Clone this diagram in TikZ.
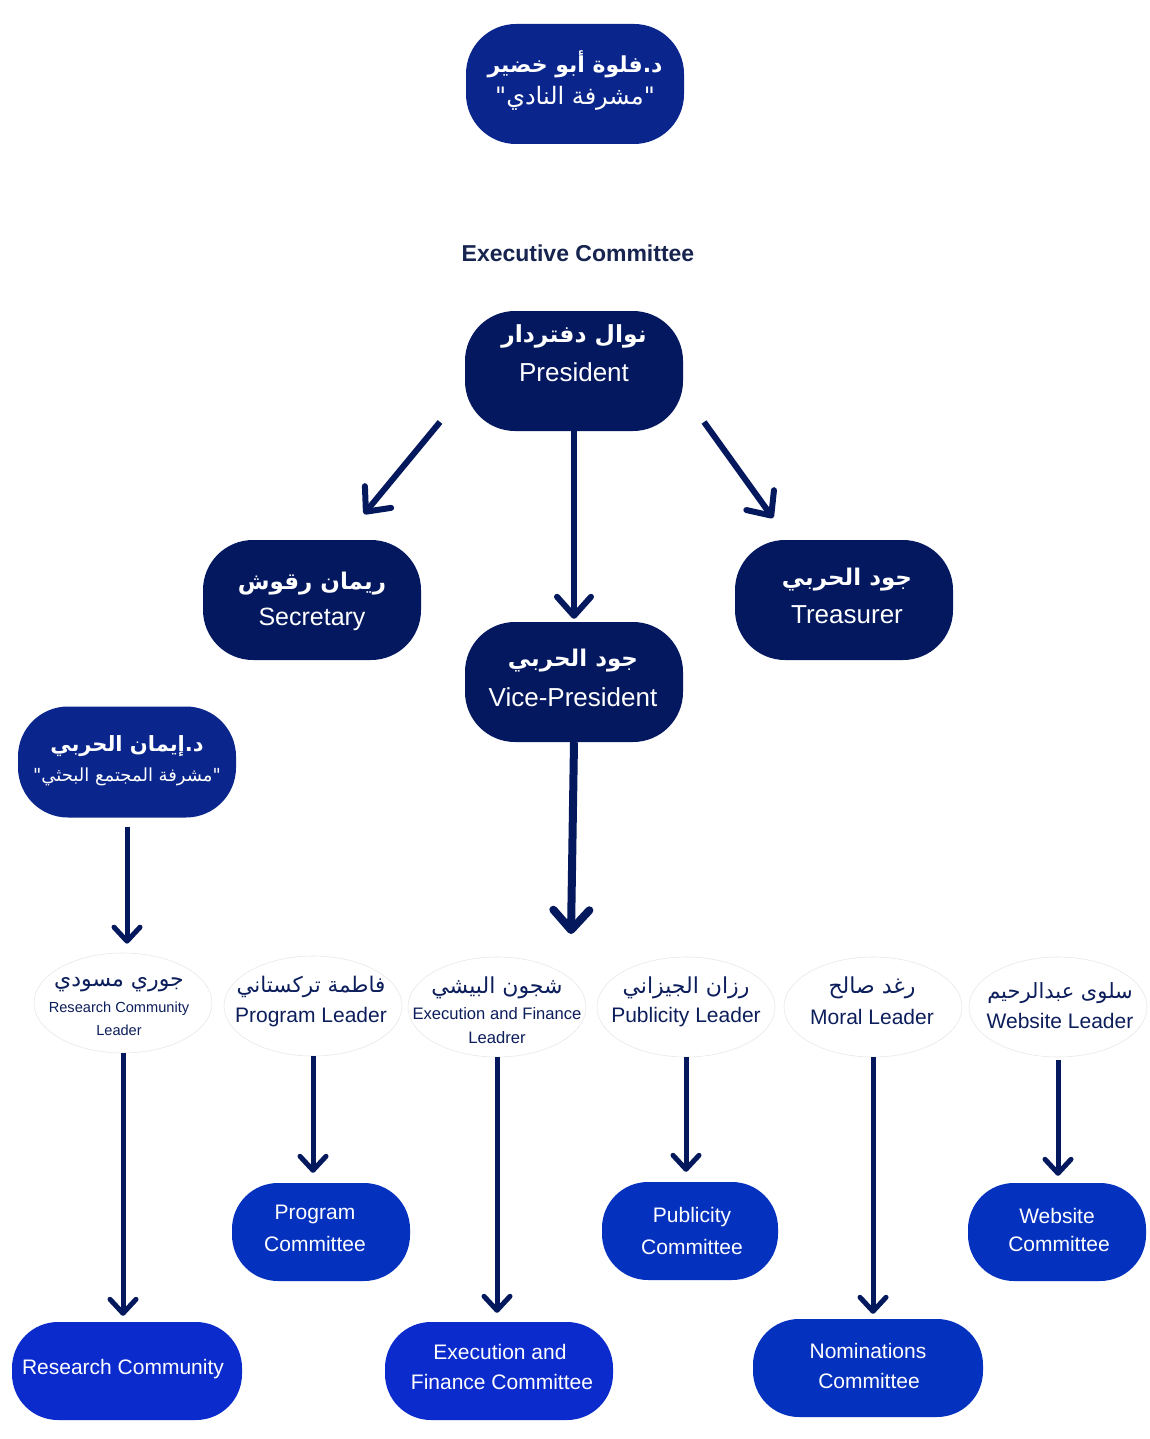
\documentclass[tikz,border=0pt]{standalone}
\usepackage{fontspec}
\setmainfont{Liberation Sans}
\TeXXeTstate=1
\newfontfamily\arabicfont[Script=Arabic]{DejaVu Sans}
\usetikzlibrary{arrows.meta,shapes.geometric}
\newcommand{\artxt}[1]{{\arabicfont\beginR #1\endR}}
\newcommand{\fsz}[1]{\fontsize{#1}{#1}\selectfont}
\definecolor{navy}{HTML}{03185F}
\definecolor{supblue}{HTML}{0A268C}
\definecolor{combl}{HTML}{0432BF}
\definecolor{combv}{HTML}{0B2BCC}
\definecolor{arrowc}{HTML}{04185E}
\definecolor{ldtext}{HTML}{0C1E5B}
\definecolor{ectext}{HTML}{17244F}
\begin{document}
\begin{tikzpicture}[x=1pt,y=-1pt,
  execbox/.style={fill=navy, rounded corners=50pt, minimum width=218pt, minimum height=120pt, inner sep=0pt},
  supbox/.style={fill=supblue, rounded corners=50pt, minimum width=218pt, minimum height=120pt, inner sep=0pt},
  combox/.style={fill=combl, rounded corners=46pt, minimum width=178pt, minimum height=98pt, inner sep=0pt},
  comvbox/.style={fill=combv, rounded corners=46pt, minimum width=230pt, minimum height=98pt, inner sep=0pt},
  leadbox/.style={ellipse, draw=gray!18, line width=0.6pt, fill=white, minimum width=178pt, minimum height=100pt, inner sep=0pt},
  wtxt/.style={text=white, inner sep=0pt},
  ltxt/.style={text=ldtext, inner sep=0pt},
  arrbig/.style={draw=arrowc, line width=6pt, -{Straight Barb[round,length=19pt,width=34pt]}},
  arrvp/.style={draw=arrowc, line width=8pt, -{Straight Barb[round,length=20pt,width=36pt]}},
  arrsm/.style={draw=arrowc, line width=5pt, -{Straight Barb[round,length=14pt,width=26pt]}}
]
\useasboundingbox (0,0) rectangle (1150,1439);
\fill[white] (0,0) rectangle (1150,1439);

% supervisor
\node[supbox] (top) at (575,84) {};
\node[wtxt] (topA) at (575,64) {\fsz{22}\bfseries\artxt{د.فلوة أبو خضير}};
\node[wtxt] (topB) at (575,98) {\fsz{24}\artxt{"مشرفة النادي"}};

\node[text=ectext, inner sep=0pt] (ectitle) at (578,253) {\fsz{23}\bfseries Executive Committee};

% executive
\node[execbox] (pres) at (574,371) {};
\node[wtxt] (presA) at (574,336) {\fsz{23.5}\bfseries\artxt{نوال دفتردار}};
\node[wtxt] (presB) at (574,372) {\fsz{26}President};

\node[execbox] (sec) at (312,600) {};
\node[wtxt] (secA) at (312,584) {\fsz{23}\bfseries\artxt{ريمان رقوش}};
\node[wtxt] (secB) at (312,619) {\fsz{25}Secretary};

\node[execbox] (tre) at (844,600) {};
\node[wtxt] (treA) at (847,580) {\fsz{23}\bfseries\artxt{جود الحربي}};
\node[wtxt] (treB) at (847,615) {\fsz{26}Treasurer};

\node[execbox] (vp) at (574,682) {};
\node[wtxt] (vpA) at (573,661) {\fsz{23}\bfseries\artxt{جود الحربي}};
\node[wtxt] (vpB) at (573,697) {\fsz{26}Vice-President};

\node[supbox, minimum height=111pt] (sup) at (127,762) {};
\node[wtxt] (supA) at (127,746) {\fsz{21}\bfseries\artxt{د.إيمان الحربي}};
\node[wtxt] (supB) at (127,777) {\fsz{18}\artxt{"مشرفة المجتمع البحثي"}};

% leaders
\node[leadbox] (joury) at (123,1003) {};
\node[ltxt] (jouryA) at (119,985) {\fsz{22}\artxt{جوري مسودي}};
\node[ltxt] (jouryB) at (119,1009) {\fsz{14.6}Research Community};
\node[ltxt] (jouryC) at (119,1030) {\fsz{14.6}Leader};

\node[leadbox] (fatima) at (313,1006) {};
\node[ltxt] (fatimaA) at (311,987) {\fsz{21.5}\artxt{فاطمة تركستاني}};
\node[ltxt] (fatimaB) at (311,1017) {\fsz{21}Program Leader};

\node[leadbox] (shaj) at (497,1007) {};
\node[ltxt] (shajA) at (497,988) {\fsz{22}\artxt{شجون البيشي}};
\node[ltxt] (shajB) at (497,1014) {\fsz{16.6}Execution and Finance};
\node[ltxt] (shajC) at (497,1038) {\fsz{16.6}Leadrer};

\node[leadbox] (razan) at (686,1007) {};
\node[ltxt] (razanA) at (686,988) {\fsz{22}\artxt{رزان الجيزاني}};
\node[ltxt] (razanB) at (686,1017) {\fsz{21}Publicity Leader};

\node[leadbox] (raghad) at (873,1007) {};
\node[ltxt] (raghadA) at (872,988) {\fsz{22}\artxt{رغد صالح}};
\node[ltxt] (raghadB) at (872,1017) {\fsz{21}Moral Leader};

\node[leadbox] (salwa) at (1058,1007) {};
\node[ltxt] (salwaA) at (1060,993) {\fsz{21}\artxt{سلوى عبدالرحيم}};
\node[ltxt] (salwaB) at (1060,1021) {\fsz{21}Website Leader};

% committees
\node[combox] (prog) at (321,1232) {};
\node[wtxt] (progA) at (315,1214) {\fsz{21}Program};
\node[wtxt] (progB) at (315,1244) {\fsz{21}Committee};

\node[combox, minimum width=176pt] (pub) at (690,1231) {};
\node[wtxt] (pubA) at (692,1217) {\fsz{21}Publicity};
\node[wtxt] (pubB) at (692,1247) {\fsz{21}Committee};

\node[combox] (web) at (1057,1232) {};
\node[wtxt] (webA) at (1057,1216) {\fsz{21}Website};
\node[wtxt] (webB) at (1059,1244) {\fsz{21}Committee};

\node[comvbox] (rc) at (127,1371) {};
\node[wtxt] (rcA) at (123,1369) {\fsz{21}Research Community};

\node[comvbox, minimum width=228pt] (ef) at (499,1371) {};
\node[wtxt] (efA) at (500,1352) {\fsz{21}Execution and};
\node[wtxt] (efB) at (502,1382) {\fsz{21}Finance Committee};

\node[combox, minimum width=230pt] (nom) at (868,1368) {};
\node[wtxt] (nomA) at (868,1351) {\fsz{21}Nominations};
\node[wtxt] (nomB) at (869,1381) {\fsz{21}Committee};

% connectors
\coordinate (dlS) at (440,422);
\coordinate (dlE) at (364,514);
\coordinate (drS) at (704,422);
\coordinate (drE) at (773,518);
\coordinate (vpE) at (571,934);
\draw[arrbig] (dlS) -- (dlE);
\draw[arrbig] (drS) -- (drE);
\draw[arrbig, shorten >=3pt] (pres.south) -- (vp.north);
\draw[arrvp] (vp.south) -- (vpE);
\draw[arrsm, shorten <=9pt, shorten >=9pt] (sup.south) -- (sup.south |- joury.north);
\draw[arrsm, shorten >=6pt] (joury.south) -- (joury.south |- rc.north);
\draw[arrsm, shorten >=10pt] (fatima.south) -- (fatima.south |- prog.north);
\draw[arrsm, shorten >=9pt] (shaj.south) -- (shaj.south |- ef.north);
\draw[arrsm, shorten >=10pt] (razan.south) -- (razan.south |- pub.north);
\draw[arrsm, shorten >=5pt] (raghad.south) -- (raghad.south |- nom.north);
\draw[arrsm, shorten <=3pt, shorten >=7pt] (salwa.south) -- (salwa.south |- web.north);
\end{tikzpicture}
\end{document}
